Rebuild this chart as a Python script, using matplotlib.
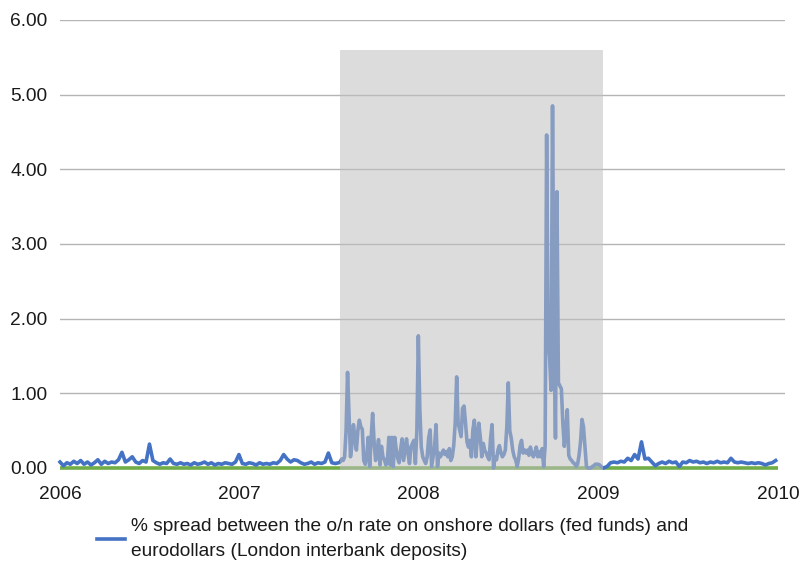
import matplotlib
matplotlib.use("Agg")
import matplotlib.pyplot as plt
import matplotlib.dates as mdates
import pandas as pd

# ---- data ----
# weekly readings, 2006-01-01 .. 2007-07-22
pre_values = [
    0.08, 0.03, 0.07, 0.05, 0.09, 0.06, 0.10, 0.05, 0.08, 0.04,
    0.07, 0.11, 0.05, 0.09, 0.06, 0.08, 0.07, 0.11, 0.21, 0.08,
    0.11, 0.15, 0.08, 0.06, 0.10, 0.08, 0.32, 0.10, 0.07, 0.05,
    0.07, 0.06, 0.12, 0.06, 0.05, 0.07, 0.05, 0.06, 0.04, 0.07,
    0.05, 0.06, 0.08, 0.05, 0.07, 0.04, 0.06, 0.05, 0.07, 0.06,
    0.05, 0.08, 0.18, 0.06, 0.05, 0.07, 0.06, 0.04, 0.07, 0.05,
    0.06, 0.05, 0.07, 0.06, 0.10, 0.18, 0.12, 0.08, 0.11, 0.10,
    0.07, 0.05, 0.06, 0.08, 0.05, 0.07, 0.06, 0.08, 0.20, 0.07,
    0.06, 0.07,
]
# readings every 3 days, 2007-07-25 .. 2009-01-09
crisis_values = [
    0.08, 0.12, 0.10, 0.15, 0.50, 1.28, 0.70, 0.15, 0.32, 0.58,
    0.40, 0.24, 0.50, 0.64, 0.55, 0.52, 0.10, 0.05, 0.15, 0.41,
    0.02, 0.40, 0.73, 0.35, 0.10, 0.20, 0.38, 0.04, 0.29, 0.15,
    0.11, 0.04, 0.08, 0.41, 0.04, 0.41, 0.02, 0.41, 0.25, 0.13,
    0.07, 0.25, 0.39, 0.10, 0.25, 0.39, 0.20, 0.06, 0.28, 0.33,
    0.37, 0.06, 0.50, 1.77, 0.80, 0.28, 0.15, 0.10, 0.06, 0.15,
    0.40, 0.51, 0.02, 0.15, 0.28, 0.58, 0.02, 0.20, 0.15, 0.20,
    0.24, 0.18, 0.22, 0.15, 0.26, 0.10, 0.15, 0.30, 0.60, 1.22,
    0.60, 0.51, 0.42, 0.80, 0.83, 0.60, 0.35, 0.28, 0.37, 0.15,
    0.51, 0.64, 0.15, 0.40, 0.60, 0.42, 0.15, 0.33, 0.24, 0.20,
    0.15, 0.11, 0.40, 0.58, 0.00, 0.15, 0.11, 0.24, 0.30, 0.20,
    0.15, 0.18, 0.24, 0.55, 1.14, 0.50, 0.40, 0.24, 0.15, 0.11,
    0.02, 0.12, 0.30, 0.37, 0.20, 0.24, 0.20, 0.24, 0.17, 0.28,
    0.20, 0.15, 0.20, 0.28, 0.15, 0.22, 0.15, 0.26, 0.02, 0.30,
    4.46, 1.71, 1.49, 1.04, 4.85, 2.00, 0.40, 3.70, 1.14, 1.10,
    1.06, 0.60, 0.29, 0.50, 0.78, 0.17, 0.12, 0.10, 0.07, 0.06,
    0.02, 0.05, 0.17, 0.35, 0.65, 0.55, 0.29, 0.02, 0.00, 0.00,
    0.00, 0.02, 0.03, 0.05, 0.05, 0.05, 0.04, 0.02, 0.00,
]
# weekly readings, 2009-01-11 .. 2009-12-27
post_values = [
    0.00, 0.02, 0.07, 0.08, 0.07, 0.09, 0.08, 0.13, 0.10, 0.18,
    0.12, 0.35, 0.12, 0.13, 0.08, 0.03, 0.06, 0.08, 0.06, 0.09,
    0.07, 0.08, 0.02, 0.08, 0.07, 0.10, 0.08, 0.09, 0.07, 0.08,
    0.06, 0.08, 0.07, 0.09, 0.07, 0.08, 0.07, 0.13, 0.08, 0.07,
    0.08, 0.07, 0.06, 0.07, 0.06, 0.07, 0.06, 0.04, 0.06, 0.07,
    0.10,
]
baseline_value = 0.0
shade_start, shade_end, shade_top = "2007-07-25", "2009-01-09", 5.6
y_ticks = [0, 1, 2, 3, 4, 5, 6]
year_ticks = ["2006", "2007", "2008", "2009", "2010"]
legend_label = ("% spread between the o/n rate on onshore dollars (fed funds) and\n"
                "eurodollars (London interbank deposits)")

pre_dates = pd.date_range("2006-01-01", periods=len(pre_values), freq="7D")
crisis_dates = pd.date_range("2007-07-25", periods=len(crisis_values), freq="3D")
post_dates = pd.date_range("2009-01-11", periods=len(post_values), freq="7D")
dates = list(pre_dates) + list(crisis_dates) + list(post_dates)
values = pre_values + crisis_values + post_values

# ---- figure ----
plt.rcParams["font.family"] = ["Liberation Sans", "DejaVu Sans"]
text_color = "#1a1a1a"
fs = 13.8
fig = plt.figure(figsize=(7.99, 5.61), dpi=100)
ax = fig.add_axes([0.0751, 0.1658, 0.9074, 0.7986])

for v in y_ticks[1:]:
    ax.axhline(v, color="#b4b4b4", lw=1.0, zorder=0)

ax.plot([pd.Timestamp("2006-01-01"), pd.Timestamp("2009-12-31")],
        [baseline_value, baseline_value], color="#70AD47", lw=2.6,
        solid_capstyle="butt", zorder=2, clip_on=False)
line, = ax.plot(dates, values, color="#4472C4", lw=2.6, zorder=3,
                solid_joinstyle="round", clip_on=False)

ax.fill_between([pd.Timestamp(shade_start), pd.Timestamp(shade_end)],
                -0.03, shade_top, color="#c0c0c0", alpha=0.55, lw=0,
                zorder=4, clip_on=False)

ax.set_ylim(0, 6)
ax.set_xlim(pd.Timestamp("2006-01-01"), pd.Timestamp("2010-01-15"))
ax.set_yticks(y_ticks)
ax.set_yticklabels([f"{v:.2f}" for v in y_ticks])
ax.set_xticks([pd.Timestamp(f"{y}-01-01") for y in year_ticks])
ax.set_xticklabels(year_ticks)
ax.tick_params(axis="both", length=0, labelsize=fs, colors=text_color)
ax.tick_params(axis="y", pad=9)
ax.tick_params(axis="x", pad=13)
for s in ax.spines.values():
    s.set_visible(False)

leg = fig.legend([line], [legend_label], loc="upper left",
                 bbox_to_anchor=(0.1214, 0.0766), frameon=False,
                 fontsize=fs, handlelength=1.45, handletextpad=0.33,
                 borderpad=0, borderaxespad=0)
for t in leg.get_texts():
    t.set_color(text_color)
    t.set_linespacing(1.6)

fig.savefig("out.png", dpi=100)
